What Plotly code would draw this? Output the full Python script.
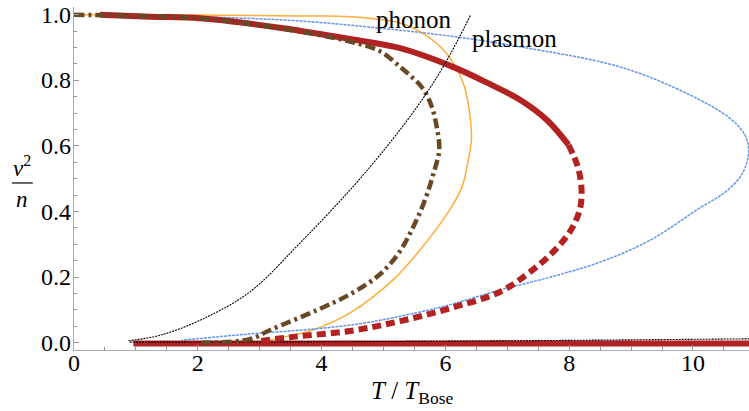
import plotly.graph_objects as go

# ---- data (T/T_Bose, v^2/n) ----
orange_x = [0.0, 2.04, 3.65, 4.46, 5.27, 5.68, 6.02, 6.29, 6.40, 6.42, 6.37, 6.27, 6.07, 5.59, 5.15, 4.46, 3.86, 3.17, 3.04]
orange_y = [1.0, 0.999, 0.996, 0.994, 0.975, 0.938, 0.882, 0.791, 0.689, 0.618, 0.557, 0.476, 0.405, 0.283, 0.191, 0.091, 0.039, 0.008, 0.0]

blue_x = [0.8, 2.04, 3.65, 4.89, 6.07, 7.21, 8.82, 9.90, 10.60, 10.84, 10.90, 10.86, 10.76, 10.52, 10.11, 9.31, 8.50, 7.69, 6.88, 5.99, 4.78, 3.99, 2.84, 1.74]
blue_y = [1.0, 0.994, 0.981, 0.96, 0.935, 0.902, 0.841, 0.760, 0.684, 0.633, 0.588, 0.543, 0.505, 0.459, 0.411, 0.313, 0.246, 0.200, 0.161, 0.112, 0.063, 0.044, 0.027, 0.008]

red_solid_x = [0.42, 1.23, 2.04, 3.38, 4.46, 5.27, 6.12, 6.67, 7.21, 7.64, 7.99]
red_solid_y = [1.0, 0.994, 0.989, 0.959, 0.926, 0.898, 0.841, 0.793, 0.740, 0.679, 0.603]
red_dash_x = [7.99, 8.14, 8.20, 8.17, 8.01, 7.72, 7.32, 6.88, 6.07, 5.27, 4.46, 3.54, 3.0]
red_dash_y = [0.603, 0.536, 0.466, 0.405, 0.338, 0.273, 0.209, 0.155, 0.105, 0.066, 0.036, 0.018, 0.005]
red_low_x = [0.96, 10.92]
red_low_y = [-0.002, -0.002]

brown_x = [0.0, 1.23, 2.04, 3.38, 4.46, 4.94, 5.27, 5.44, 5.62, 5.77, 5.86, 5.90, 5.80, 5.67, 5.48, 5.24, 4.92, 4.46, 3.93, 3.17, 2.84, 2.07]
brown_y = [1.0, 0.995, 0.989, 0.957, 0.918, 0.889, 0.841, 0.813, 0.779, 0.725, 0.658, 0.588, 0.511, 0.435, 0.353, 0.272, 0.205, 0.148, 0.1, 0.039, 0.011, 0.0]

black_x = [0.88, 1.39, 2.04, 2.84, 3.65, 4.46, 5.1, 5.62, 6.0, 6.41]
black_y = [0.006, 0.023, 0.069, 0.155, 0.304, 0.466, 0.609, 0.74, 0.853, 1.0]
black_low_x = [0.9, 4.0, 7.0, 9.0, 10.92]
black_low_y = [0.002, 0.003, 0.006, 0.009, 0.012]

x_ticks = [0, 2, 4, 6, 8, 10]
y_ticks = [0.0, 0.2, 0.4, 0.6, 0.8, 1.0]
y_tick_text = ["0.0", "0.2", "0.4", "0.6", "0.8", "1.0"]

labels = [("phonon", 5.49, 0.984), ("plasmon", 7.11, 0.926)]

FONT = "Liberation Serif"
RED = "rgb(178,34,34)"
BROWN = "rgb(105,72,38)"
BLUE = "rgb(100,149,237)"
ORANGE = "rgb(255,172,60)"
SM = 1.0

fig = go.Figure()
fig.add_trace(go.Scatter(x=orange_x, y=orange_y, mode="lines", line=dict(color=ORANGE, width=1.5, shape="spline", smoothing=SM)))
fig.add_trace(go.Scatter(x=blue_x, y=blue_y, mode="lines", line=dict(color=BLUE, width=1.5, dash="3px,1px", shape="spline", smoothing=SM)))
fig.add_trace(go.Scatter(x=red_low_x, y=red_low_y, mode="lines", line=dict(color=RED, width=6)))
fig.add_trace(go.Scatter(x=black_low_x, y=black_low_y, mode="lines", line=dict(color="black", width=1.1, dash="2px,1px", shape="spline", smoothing=SM)))
fig.add_trace(go.Scatter(x=red_solid_x, y=red_solid_y, mode="lines", line=dict(color=RED, width=6, shape="spline", smoothing=SM)))
fig.add_trace(go.Scatter(x=red_dash_x, y=red_dash_y, mode="lines", line=dict(color=RED, width=6, dash="9px,5px", shape="spline", smoothing=SM)))
fig.add_trace(go.Scatter(x=brown_x, y=brown_y, mode="lines", line=dict(color=BROWN, width=4.5, dash="10px,4px,3px,4px", shape="spline", smoothing=SM)))
fig.add_trace(go.Scatter(x=black_x, y=black_y, mode="lines", line=dict(color="black", width=1.1, dash="2px,1px", shape="spline", smoothing=SM)))

for txt, lx, ly in labels:
    fig.add_annotation(x=lx, y=ly, text=txt, showarrow=False, xanchor="center", yanchor="middle",
                       font=dict(family=FONT, size=25, color="black"))

# y tick labels placed right next to the axis line (as in the reference)
for val, txt in zip(y_ticks, y_tick_text):
    fig.add_annotation(xref="paper", yref="y", x=0, y=val, text=txt, showarrow=False, xanchor="right",
                       yanchor="middle", xshift=-1, font=dict(family=FONT, size=24, color="black"))

# y-axis title as a fraction v^2 / n
fig.add_annotation(xref="paper", yref="paper", x=-0.077, y=0.535, text="<i>v</i><sup>2</sup>", showarrow=False,
                   xanchor="center", yanchor="middle", font=dict(family=FONT, size=23, color="black"))
fig.add_annotation(xref="paper", yref="paper", x=-0.077, y=0.44, text="<i>n</i>", showarrow=False,
                   xanchor="center", yanchor="middle", font=dict(family=FONT, size=23, color="black"))
fig.add_shape(type="line", xref="paper", yref="paper", x0=-0.092, x1=-0.061, y0=0.487, y1=0.487,
              line=dict(color="black", width=1.2))
# x-axis title
fig.add_annotation(xref="paper", yref="paper", x=0.5, y=-0.125, text="<i>T</i> / <i>T</i><sub>Bose</sub>",
                   showarrow=False, xanchor="center", yanchor="middle", font=dict(family=FONT, size=25, color="black"))

axis_common = dict(showgrid=False, zeroline=False, showline=True, linecolor="rgb(170,170,170)", linewidth=1,
                   ticks="inside", tickcolor="rgb(150,150,150)", ticklen=5, tickwidth=1, automargin=False,
                   tickfont=dict(family=FONT, size=24, color="black"))

fig.update_layout(
    width=749, height=411,
    margin=dict(l=74, r=0, t=7, b=61),
    paper_bgcolor="white", plot_bgcolor="white",
    showlegend=False,
    xaxis=dict(range=[0, 10.905], tickvals=x_ticks, ticktext=[str(v) for v in x_ticks], ticklabelstandoff=-9,
               minor=dict(dtick=0.5, tick0=0, ticks="inside", ticklen=3, tickcolor="rgb(150,150,150)"),
               **axis_common),
    yaxis=dict(range=[-0.022, 1.0235], tickvals=y_ticks, showticklabels=False,
               minor=dict(dtick=0.05, tick0=0, ticks="inside", ticklen=3, tickcolor="rgb(150,150,150)"),
               **axis_common),
)

fig.write_html("out.html", config={"displayModeBar": False},
               post_script="document.body.style.margin='0';document.body.style.padding='0';")
